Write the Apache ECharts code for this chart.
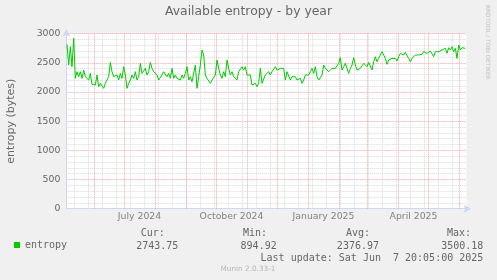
<!DOCTYPE html>
<html>
<head>
<meta charset="utf-8">
<script src="https://cdn.jsdelivr.net/npm/echarts@6/dist/echarts.min.js"></script>
<style>
html,body{margin:0;padding:0;background:#f0f0f0;}
#chart{width:497px;height:280px;}
</style>
</head>
<body>
<div id="chart"></div>
<script>
// ---- data ----
const DAY = 86400000;
const endTime = Date.UTC(2025, 5, 7, 20, 5);     // Last update
const spanDays = 400;                             // munin "by year" window
const startTime = endTime - spanDays * DAY;
const firstSampleDay = 0.67;
const sampleStepDays = 5 / 3;

const entropyValues = [
  2817,2463,2777,2434,2920,2235,2349,2263,2349,2235,2377,2263,2292,2206,2320,2132,
  2149,2120,2292,2092,2149,2177,2063,2149,2120,2263,2509,2349,2263,2235,2292,2206,
  2320,2235,2434,2292,2063,2149,2206,2292,2235,2349,2206,2263,2492,2320,2349,2406,
  2292,2349,2509,2406,2349,2377,2292,2206,2235,2292,2349,2377,2263,2320,2235,2406,
  2235,2292,2235,2263,2206,2292,2235,2320,2434,2206,2263,2177,2149,2463,2063,2263,
  2463,2720,2635,2292,2235,2206,2149,2206,2177,2292,2549,2406,2292,2235,2349,2263,
  2549,2406,2292,2349,2263,2292,2206,2349,2320,2434,2377,2434,2292,2320,2292,2120,
  2092,2149,2092,2149,
  2406,2149,2120,2292,2263,2349,2292,2349,2377,2434,2377,2406,2406,2377,2406,2206,
  2349,2320,2206,2263,2235,2263,2206,2177,2235,2149,2206,2292,2320,2292,2349,2406,
  2320,2434,2263,2206,2235,2292,2463,2406,2406,2349,2377,2406,2434,2406,2434,2492,
  2589,2377,2434,2492,2406,2320,2406,2463,2589,2463,2377,2349,2406,2434,2492,2520,
  2434,2509,2520,2377,2520,2606,2520,2577,2606,2692,2635,2577,2475,2549,2577,2577,
  2549,2577,2532,2606,2663,2675,2635,2680,2663,2577,2520,2577,2606,2635,2663,2635,
  2663,2646,2692,2720,2663,2692,2703,2692,2606,2692,2703,2692,2663,2720,2692,2749,
  2663,2760,2720,2777,2692,2749,2577,2806,2720,2760,2737,2749
];

const monthStarts = ['2024-06-01','2024-07-01','2024-08-01','2024-09-01','2024-10-01','2024-11-01',
  '2024-12-01','2025-01-01','2025-02-01','2025-03-01','2025-04-01','2025-05-01','2025-06-01'];
const firstWeekLine = '2024-05-12';
const weekLineStepDays = 14;

const xLabelDates = ['2024-07-16','2024-10-16','2025-01-16','2025-04-16'];
const xLabelTexts = ['July 2024','October 2024','January 2025','April 2025'];

const yMin = 0, yMax = 3000, yStep = 500;

const statHeads = ['Cur:','Min:','Avg:','Max:'];
const statValues = ['2743.75','894.92','2376.97','3500.18'];
const lastUpdate = 'Last update: Sat Jun  7 20:05:00 2025';

// ---- build ----
const toMs = s => { const p = s.split('-').map(Number); return Date.UTC(p[0], p[1]-1, p[2]); };
const seriesData = entropyValues.map((v, i) => [startTime + (firstSampleDay + i * sampleStepDays) * DAY, v]);

const weekLines = [];
for (let t = toMs(firstWeekLine); t <= endTime; t += weekLineStepDays * DAY) weekLines.push(t);

const GRID_GREY = '#d8d8d8';
const GRID_RED = '#f4a4a4';
const AXIS = '#cfd6f8';
const FONT = '#666666';
const SANS = 'DejaVu Sans';
const MONO = 'DejaVu Sans Mono';

const vLines = weekLines.map(t => ({ xAxis: t, lineStyle: { color: GRID_GREY, type: [1, 1], width: 1 } }))
  .concat(monthStarts.map(s => ({ xAxis: toMs(s), lineStyle: { color: GRID_RED, type: [1, 1], width: 1 } })));

const labelData = xLabelDates.map((d, i) => ({ value: [toMs(d), yMin], name: xLabelTexts[i] }));

const statX = [[140.7, 178.3], [243, 276.7], [346, 379], [447, 483.3]];

const graphics = [];
statHeads.forEach((h, i) => {
  graphics.push({ type: 'text', x: statX[i][0], y: 233.5, silent: true,
    style: { text: h, font: '10px "' + MONO + '"', fill: FONT, align: 'left', verticalAlign: 'middle' } });
  graphics.push({ type: 'text', x: statX[i][1], y: 246, silent: true,
    style: { text: statValues[i], font: '10px "' + MONO + '"', fill: FONT, align: 'right', verticalAlign: 'middle' } });
});
graphics.push({ type: 'text', x: 483.3, y: 258, silent: true,
  style: { text: lastUpdate, font: '10px "' + MONO + '"', fill: FONT, align: 'right', verticalAlign: 'middle' } });
graphics.push({ type: 'text', x: 248, y: 269.5, silent: true,
  style: { text: 'Munin 2.0.33-1', font: '7.3px "' + SANS + '"', fill: '#b8b8b8', align: 'center', verticalAlign: 'middle' } });
graphics.push({ type: 'text', x: 488, y: 5, rotation: -Math.PI / 2, silent: true,
  style: { text: 'RRDTOOL / TOBI OETIKER', font: '5.8px "' + SANS + '"', fill: '#c4c4c4', align: 'left', verticalAlign: 'middle' } });

const chart = echarts.init(document.getElementById('chart'), null, { renderer: 'canvas' });
chart.setOption({
  backgroundColor: '#f0f0f0',
  useUTC: true,
  animation: false,
  title: {
    text: 'Available entropy - by year', left: 'center', top: 6, padding: 0,
    textStyle: { fontFamily: SANS, fontSize: 12.4, fontWeight: 'normal', color: FONT }
  },
  legend: {
    data: ['entropy'], left: 14, top: 240, padding: 0, icon: 'rect', itemWidth: 6, itemHeight: 6,
    textStyle: { fontFamily: MONO, fontSize: 10, color: FONT }
  },
  grid: { left: 66.34, right: 30.66, top: 33.7, bottom: 71.3, show: true, backgroundColor: '#ffffff', borderWidth: 0,
    containLabel: false, outerBoundsMode: 'none' },
  xAxis: {
    type: 'time', min: startTime, max: endTime,
    axisLine: { show: true, lineStyle: { color: AXIS, width: 1 }, symbol: ['none', 'arrow'], symbolSize: [6, 8], symbolOffset: [0, 5] },
    axisTick: { show: false },
    splitLine: { show: false },
    axisLabel: { show: false }
  },
  yAxis: {
    type: 'value', min: yMin, max: yMax, interval: yStep,
    name: 'entropy (bytes)', nameLocation: 'middle', nameGap: 50,
    nameTextStyle: { fontFamily: SANS, fontSize: 11, color: FONT },
    axisLine: { show: true, lineStyle: { color: AXIS, width: 1 }, symbol: ['none', 'arrow'], symbolSize: [6, 8], symbolOffset: [0, 5] },
    axisTick: { show: false },
    axisLabel: { margin: 6, fontFamily: SANS, fontSize: 9.3, color: FONT, formatter: v => String(v) },
    splitLine: { show: true, lineStyle: { color: GRID_RED, type: [1, 1], width: 1 } },
    minorTick: { show: false, splitNumber: 5 },
    minorSplitLine: { show: true, lineStyle: { color: GRID_GREY, type: [1, 1], width: 1 } }
  },
  series: [
    {
      name: 'grid', type: 'line', data: [], silent: true, z: 1,
      markLine: { silent: true, symbol: ['none', 'none'], label: { show: false }, animation: false, data: vLines }
    },
    {
      name: 'entropy', type: 'line', data: seriesData, showSymbol: false, symbol: 'none', z: 5,
      lineStyle: { color: '#00cc00', width: 1 }, itemStyle: { color: '#00cc00' }
    },
    {
      name: 'xlabels', type: 'scatter', data: labelData, symbolSize: 0, silent: true, clip: false, z: 6,
      label: { show: true, position: 'bottom', distance: 3, formatter: p => p.name,
        fontFamily: SANS, fontSize: 9.3, color: FONT }
    }
  ],
  graphic: graphics
});
</script>
</body>
</html>
